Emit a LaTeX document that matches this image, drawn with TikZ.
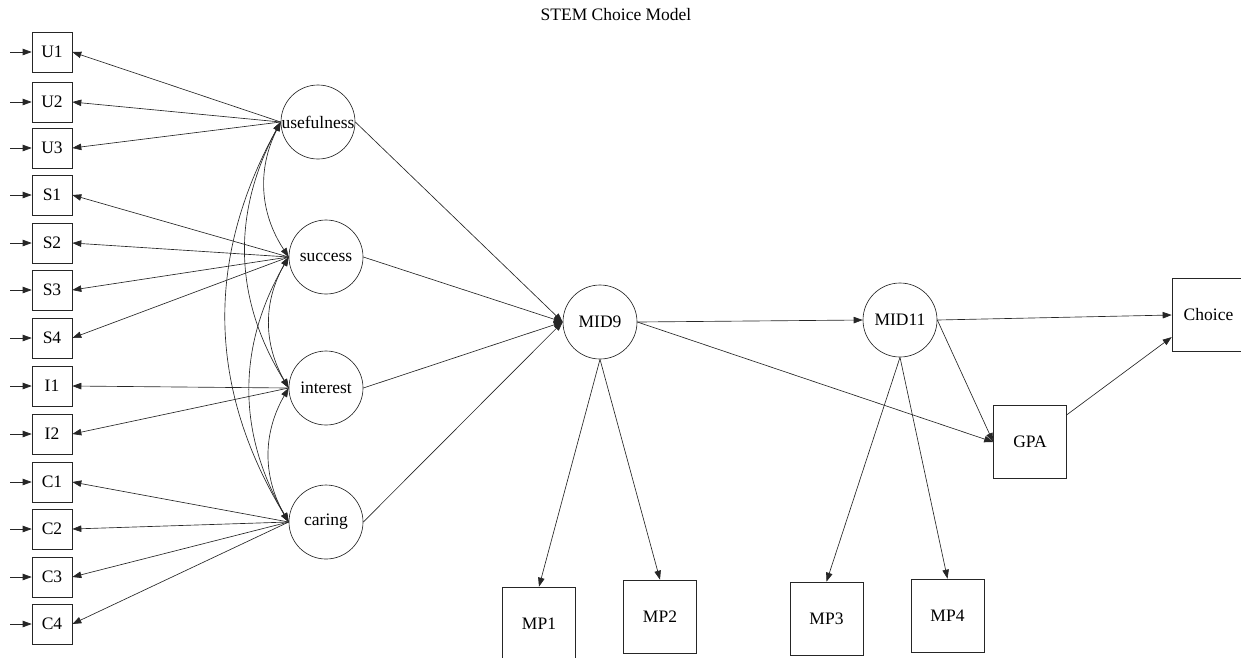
\documentclass[tikz,border=0pt]{standalone}
\usepackage{fontspec}
\setmainfont{Liberation Serif}
\usetikzlibrary{arrows.meta,calc}
\begin{document}
\begin{tikzpicture}[x=1pt,y=1pt]
\tikzset{
 ln/.style={line width=0.65pt, draw=black!85},
 tip/.tip={Triangle[length=9pt,width=6.5pt]},
 arr/.style={ln, -tip},
 darr/.style={ln, tip-tip},
 txt/.style={font=\rmfamily\fontsize{17.5}{20}\selectfont},
 ind/.style={draw=black!85, line width=0.65pt, rectangle, minimum width=40pt, minimum height=40pt, inner sep=0pt, txt},
 obs/.style={ind, minimum width=73pt, minimum height=73pt},
 lat/.style={draw=black!85, line width=0.65pt, circle, minimum size=74pt, inner sep=0pt},
}
\useasboundingbox (0,0) rectangle (1241,-657);
\node[txt] (title) at (616,-15) {STEM Choice Model};
% indicators
\foreach \n/\y in {U1/52,U2/102,U3/148,S1/195,S2/243,S3/290,S4/338,I1/386,I2/434,C1/482,C2/529,C3/577,C4/624}{
  \node[ind] (\n) at (52,-\y) {\n};
  \coordinate (e\n) at (10,-\y);
  \draw[arr] (e\n) -- (\n);
}
% latents
\node[lat, label={[txt]center:usefulness}] (use) at (318,-122) {};
\node[lat, label={[txt]center:success}] (suc) at (326,-257) {};
\node[lat, label={[txt]center:interest}] (int) at (326,-388) {};
\node[lat, label={[txt]center:caring}] (car) at (326,-522) {};
\node[lat, label={[txt]center:MID9}] (mid9) at (600,-322) {};
\node[lat, label={[txt]center:MID11}] (mid11) at (900,-320) {};
% observed outcomes
\node[obs] (choice) at (1208.5,-315) {Choice};
\node[obs] (gpa) at (1030,-442) {GPA};
\node[obs] (mp1) at (539,-623.5) {MP1};
\node[obs] (mp2) at (660,-616.5) {MP2};
\node[obs] (mp3) at (826.5,-618.5) {MP3};
\node[obs] (mp4) at (947.5,-615.5) {MP4};
% loadings
\foreach \n in {U1,U2,U3} \draw[arr] (use.west) -- (\n.east);
\foreach \n in {S1,S2,S3,S4} \draw[arr] (suc.west) -- (\n.east);
\foreach \n in {I1,I2} \draw[arr] (int.west) -- (\n.east);
\foreach \n in {C1,C2,C3,C4} \draw[arr] (car.west) -- (\n.east);
% covariances
\draw[darr] (use.west) to[bend right=30] (suc.west);
\draw[darr] (use.west) to[bend right=30] (int.west);
\draw[darr] (use.west) to[bend right=30] (car.west);
\draw[darr] (suc.west) to[bend right=30] (int.west);
\draw[darr] (suc.west) to[bend right=30] (car.west);
\draw[darr] (int.west) to[bend right=30] (car.west);
% structural paths
\foreach \n in {use,suc,int,car} \draw[arr] (\n.east) -- (mid9.west);
\draw[arr] (mid9.east) -- (mid11.west);
\draw[arr] (mid9.east) -- (gpa.west);
\draw[arr] (mid11.east) -- (gpa.west);
\draw[arr] (mid11.east) -- (choice.west);
\draw[arr] (gpa) -- ($(choice.west)!0.6!(choice.south west)$);
\draw[arr] (mid9.south) -- (mp1.north);
\draw[arr] (mid9.south) -- (mp2.north);
\draw[arr] (mid11.south) -- (mp3.north);
\draw[arr] (mid11.south) -- (mp4.north);
\end{tikzpicture}
\end{document}
